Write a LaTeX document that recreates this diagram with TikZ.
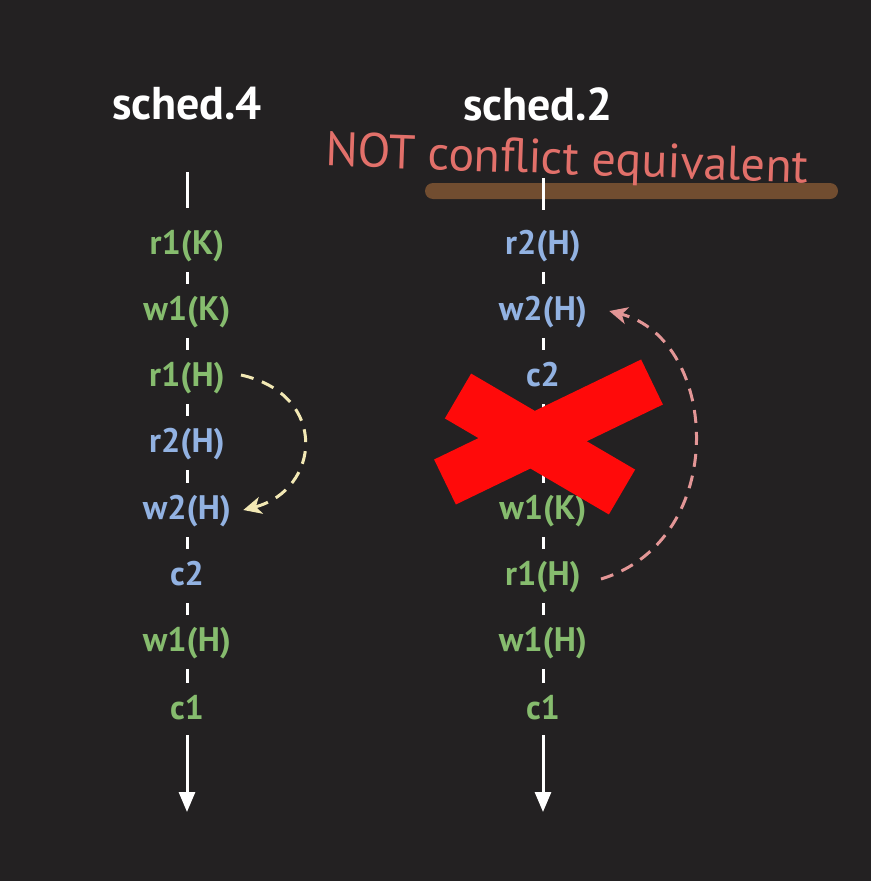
\documentclass[tikz,border=0pt]{standalone}
\usepackage{fontspec}
\setmainfont{PT Sans}
\usetikzlibrary{arrows.meta}
\definecolor{bgdark}{HTML}{232122}
\definecolor{opgreen}{HTML}{86BC6E}
\definecolor{opblue}{HTML}{92B2E2}
\definecolor{notred}{HTML}{E2706A}
\definecolor{barbrown}{HTML}{7A5232}
\definecolor{creamarc}{HTML}{F2E8B4}
\definecolor{pinkarc}{HTML}{E39696}
\definecolor{crossred}{HTML}{FF0A0A}
\tikzset{
  title/.style={text=white, font=\bfseries\fontsize{46}{50}\selectfont},
  op/.style={font=\bfseries\fontsize{34}{38}\selectfont, inner sep=0pt, minimum height=30pt, text depth=6pt},
  t1/.style={op, text=opgreen},
  t2/.style={op, text=opblue},
  tick/.style={white, line width=3pt, shorten <=12pt, shorten >=12pt},
  timeline/.style={white, line width=3pt},
  conflictarc/.style={line width=3pt, dash pattern=on 13pt off 9pt, -{Stealth[length=18pt,width=17pt,inset=5pt]}}
}
\begin{document}
\begin{tikzpicture}[x=1pt, y=-1pt]
\useasboundingbox (0,0) rectangle (871,881);
\fill[bgdark] (0,0) rectangle (871,881);
% titles
\node[title] (hd4) at (187,104) {sched.4};
\node[title] (hd2) at (538,104) {sched.2};
% highlight bar behind the remark
\fill[barbrown, opacity=0.9, rounded corners=8pt] (425,183) rectangle (838,199);
\node[text=notred, font=\fontsize{48}{52}\selectfont, rotate=-2] (remark) at (567,162) {NOT conflict equivalent};
% schedule 4
\coordinate (top4) at (187,172);
\coordinate (end4) at (187,812);
\node[t1] (a1) at (187,245) {r1(K)};
\node[t1] (a2) at (187,311) {w1(K)};
\node[t1] (a3) at (187,377) {r1(H)};
\node[t2] (a4) at (187,443) {r2(H)};
\node[t2] (a5) at (187,510) {w2(H)};
\node[t2] (a6) at (187,576) {c2};
\node[t1] (a7) at (187,642) {w1(H)};
\node[t1] (a8) at (187,710) {c1};
\draw[timeline, shorten >=22pt] (top4) -- (top4 |- a1.north);
\foreach \i/\j in {1/2,2/3,3/4,4/5,5/6,6/7,7/8}
  \draw[tick] (a\i.south) -- (a\j.north);
\draw[timeline, -{Triangle[length=20pt,width=16pt]}] ([yshift=-10pt]a8.south) -- (end4);
% schedule 2
\coordinate (top2) at (543,178);
\coordinate (end2) at (543,812);
\node[t2] (b1) at (543,245) {r2(H)};
\node[t2] (b2) at (543,311) {w2(H)};
\node[t2] (b3) at (543,377) {c2};
\node[t1] (b4) at (543,443) {r1(K)};
\node[t1] (b5) at (543,510) {w1(K)};
\node[t1] (b6) at (543,576) {r1(H)};
\node[t1] (b7) at (543,642) {w1(H)};
\node[t1] (b8) at (543,710) {c1};
\draw[timeline, shorten >=20pt] (top2) -- (top2 |- b1.north);
\foreach \i/\j in {1/2,2/3,3/4,4/5,5/6,6/7,7/8}
  \draw[tick] (b\i.south) -- (b\j.north);
\draw[timeline, -{Triangle[length=20pt,width=16pt]}] ([yshift=-10pt]b8.south) -- (end2);
% conflict arcs
\draw[conflictarc, creamarc] ([xshift=16pt,yshift=2pt]a3.east) .. controls (330,395) and (320,490) .. ([xshift=12pt]a5.east);
\draw[conflictarc, pinkarc] ([xshift=20pt,yshift=-3pt]b6.east) .. controls (730,540) and (720,340) .. ([xshift=22pt]b2.east);
% the cross
\draw[crossred, line width=52pt] (458,396) -- (622,492);
\draw[crossred, line width=50pt] (445,482) -- (652,382);
\end{tikzpicture}
\end{document}
